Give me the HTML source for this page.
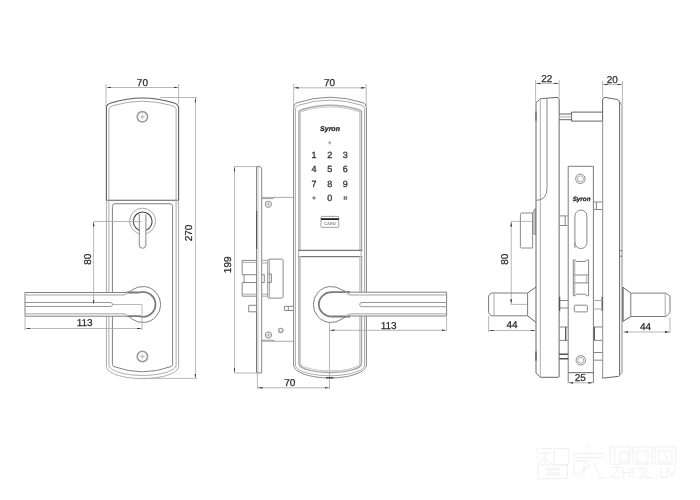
<!DOCTYPE html>
<html><head><meta charset="utf-8">
<style>
html,body{margin:0;padding:0;background:#fff;width:700px;height:500px;overflow:hidden}
svg{display:block;will-change:transform;text-rendering:geometricPrecision}
.o{fill:none;stroke:#666;stroke-width:1}
.k{fill:none;stroke:#444;stroke-width:1.1}
.l{fill:none;stroke:#aaa;stroke-width:1}
.m{fill:none;stroke:#888;stroke-width:1}
.d{fill:none;stroke:#a6a6a6;stroke-width:0.8}
.w{fill:#fff}
.t{font-family:"Liberation Sans",sans-serif;font-size:10px;fill:#2a2a2a;stroke:#2a2a2a;stroke-width:0.25;text-anchor:middle}
.a{fill:#333}
</style></head><body>
<svg width="700" height="500" viewBox="0 0 700 500">
<defs>
<marker id="ar" viewBox="0 0 4.5 1.8" refX="4.5" refY="0.9" markerWidth="4.5" markerHeight="1.8" markerUnits="userSpaceOnUse" orient="auto-start-reverse"><path d="M0,0 L4.5,0.9 L0,1.8 Z" fill="#3a3a3a"/></marker>
</defs>

<!-- ============ LEFT VIEW ============ -->
<g id="left">
<!-- dim 70 -->
<path class="d" d="M106,84 V106 M178.6,84 V104"/>
<path class="d" d="M106.5,87.5 H178.1" marker-start="url(#ar)" marker-end="url(#ar)"/>
<text class="t" x="142.4" y="85.5">70</text>
<!-- dim 270 -->
<path class="d" d="M160,97.5 H197 M140,378.4 H197"/>
<path class="d" d="M195.4,98 V378" marker-start="url(#ar)" marker-end="url(#ar)"/>
<text class="t" transform="translate(191.6,233) rotate(-90)" x="0" y="0">270</text>

<!-- upper section -->
<path fill="none" stroke="#5c5c5c" stroke-width="1.1" d="M106.4,200.3 V107.60 Q106.40,104.41 111.60,102.79 A104.10,104.10 0 0 1 173.40,102.79 Q178.60,104.41 178.60,107.60 V200.3 Z"/>
<path class="l" d="M108.9,200.3 V108.80 Q108.90,106.90 113.50,105.53 A101.50,101.50 0 0 1 171.50,105.53 Q176.10,106.90 176.10,108.80 V200.3"/>
<!-- lower plate -->
<path class="l" d="M178.6,200.3 V366.40 C178.60,373.11 162.36,378.60 142.50,378.60 C122.64,378.60 106.40,373.11 106.40,366.40 V200.3"/>
<path class="l" d="M176.1,200.3 V365.00 C176.10,370.72 160.98,375.40 142.50,375.40 C124.02,375.40 108.90,370.72 108.90,365.00 V200.3"/>
<!-- inner rect -->
<path fill="none" stroke="#808080" d="M112.4,363 V206.4 Q112.4,203.7 115,203.7 H170 Q172.6,203.7 172.6,206.4 V364.5 Q172.6,366 171,366.6 Q142.5,377 114,366.6 Q112.4,366 112.4,364.5 Z"/>

<!-- screws -->
<g transform="translate(142.4,116.8)"><circle fill="none" stroke="#9a9a9a" stroke-width="1.6" r="5.2"/><circle fill="none" stroke="#999" stroke-width="0.8" r="1"/><path fill="none" stroke="#c4c4c4" stroke-width="0.6" d="M-3.6,0 H3.6 M0,-3.6 V3.6"/></g>
<g transform="translate(142.4,356.5)"><circle fill="none" stroke="#9a9a9a" stroke-width="1.6" r="5.2"/><circle fill="none" stroke="#999" stroke-width="0.8" r="1"/><path fill="none" stroke="#c4c4c4" stroke-width="0.6" d="M-3.6,0 H3.6 M0,-3.6 V3.6"/></g>

<!-- key cylinder -->
<circle class="l" cx="142.6" cy="221.2" r="13"/>
<circle class="k" cx="142.7" cy="221.4" r="9.4" stroke-width="1.5" stroke="#555"/>
<path class="w" d="M139.3,214.3 H145.9 V245 A3.3,3.3 0 0 1 139.3,245 Z"/>
<path class="m" d="M139.3,214.3 V245 A3.3,3.3 0 0 0 145.9,245 V214.3"/>

<!-- lever -->
<path class="w" d="M25,292.5 H126 Q130,292.5 132,290 A18,18 0 1 1 132,319 Q130,316.2 126,316.2 H25 Z"/>
<path fill="none" stroke="#808080" stroke-width="1" d="M25,292.5 H126 Q130,292.5 132,290 A18,18 0 1 1 132,319 Q130,316.2 126,316.2 H25 Z"/>
<path fill="none" stroke="#7a7a7a" stroke-width="1.8" d="M126,292.5 H139 A12.5,12.5 0 1 1 139,316.2 H126"/>
<path fill="none" stroke="#c2c2c2" stroke-width="1.5" d="M25.5,295 H122 Q126,295 128,292.5 M25.5,313.7 H122 Q126,313.7 128,316.2"/>
<path fill="none" stroke="#999" d="M25,302.5 H110.5 A2,2 0 0 1 110.5,306.5 H25"/>
<!-- dim 80 -->
<path class="d" d="M93.6,221.5 H141.5"/>
<path class="d" d="M93.6,222 V304" marker-start="url(#ar)" marker-end="url(#ar)"/>
<text class="t" transform="translate(91.4,259.2) rotate(-90)">80</text>
<!-- dim 113 -->
<path class="d" d="M112.5,304.5 H142 V330 M25,316.2 V330"/>
<path class="d" d="M25.5,328.5 H141.5" marker-start="url(#ar)" marker-end="url(#ar)"/>
<text class="t" x="84.7" y="325.9">113</text>
</g>


<!-- ============ MIDDLE SIDE VIEW ============ -->
<g id="side">
<!-- dim 199 -->
<path class="d" d="M234,166.6 H256.4 M234,373 H257"/>
<path class="d" d="M234.5,167 V372.5" marker-start="url(#ar)" marker-end="url(#ar)"/>
<text class="t" transform="translate(231.3,264.8) rotate(-90)">199</text>
<!-- faceplate -->
<path d="M256.6,166.6 H259.2 V373 H256.6 Z" fill="#e2e2e2"/>
<path class="m" d="M256.5,373 V166.6 H260 Q261.7,167 261.7,169 V373 Z"/>
<path d="M256.6,211 V249" stroke="#555" stroke-width="1.2"/>
<path d="M256.6,312 V372" stroke="#777" stroke-width="1"/>
<!-- mortise body top/bottom -->
<path class="l" d="M261.7,197.4 H293.6 M261.7,341.3 H293.6"/>
<path fill="none" stroke="#999" d="M261.7,198.6 H273 L274.6,197.4 M261.7,340.2 H273 L274.6,341.3"/>
<g transform="translate(268.4,204.3)"><circle fill="none" stroke="#888" stroke-width="1" r="3.1"/><path fill="none" stroke="#999" stroke-width="0.7" d="M-2.2,0 H2.2 M0,-2.2 V2.2"/></g>
<g transform="translate(268.4,335)"><circle fill="none" stroke="#888" stroke-width="1" r="3.1"/><path fill="none" stroke="#999" stroke-width="0.7" d="M-2.2,0 H2.2 M0,-2.2 V2.2"/></g>
<circle fill="none" stroke="#999" stroke-width="1.3" cx="280.8" cy="330.4" r="2.1"/>
<!-- latch bolt -->
<path class="m" d="M256.5,260.4 H242.2 V274.7 H256.5 M244.1,274.7 V282.5 M256.5,282.5 H242.2 V296.2 H256.5"/>
<path class="l" d="M242.2,262.4 H256.5 M242.2,294.2 H256.5"/>
<path class="l" d="M261.7,260.4 H267.8 M261.7,263 H267.8 M261.7,294.2 H267.8 M261.7,296.2 H267.8"/>
<path class="m" d="M261.7,274.7 H264.3 V282.5 H261.7"/>
<rect class="m" x="267.8" y="259.1" width="15.3" height="39" rx="1.5"/>
<path class="l" d="M269.6,259.5 V297.6"/>
<path class="m" d="M267.8,274 H271.4 V282.5 H267.8"/>
<!-- plunger -->
<path class="m" d="M256.5,305.3 H248.7 V311.8 H256.5"/>
<path class="m" d="M293,306.3 H284.4 V310.5 H293 M288.3,306.3 V310.5"/>
<!-- dim 70 bottom -->
<path class="d" d="M257.4,374 V389 M329.5,305.5 V389"/>
<path class="d" d="M258,387.8 H329" marker-start="url(#ar)" marker-end="url(#ar)"/>
<text class="t" x="289.7" y="385.5">70</text>
</g>

<!-- ============ MIDDLE FRONT VIEW ============ -->
<g id="front">
<path class="d" d="M293.7,84 V106 M366.2,84 V106"/>
<path class="d" d="M294.2,87.8 H365.7" marker-start="url(#ar)" marker-end="url(#ar)"/>
<text class="t" x="329.6" y="85.5">70</text>
<path class="m" d="M293.6,300 V107.40 Q293.60,103.90 297.20,102.70 A104.10,104.10 0 0 1 362.80,102.70 Q366.40,103.90 366.40,107.40 V365.00 C366.40,372.15 350.02,378.00 330.00,378.00 C309.98,378.00 293.60,372.15 293.60,365.00 Z"/>
<path class="l" d="M295.4,300 V108.50 Q295.40,106.22 298.60,105.18 A101.50,101.50 0 0 1 361.40,105.18 Q364.60,106.22 364.60,108.50 V365.00 C364.60,370.88 349.03,375.70 330.00,375.70 C310.97,375.70 295.40,370.88 295.40,365.00 Z"/>
<path fill="none" stroke="#a8a8a8" stroke-width="2.8" d="M299.6,250.4 V111.50 Q299.60,110.98 303.40,109.86 A95.00,95.00 0 0 1 357.00,109.86 Q360.80,110.98 360.80,111.50 V250.4"/>
<path fill="none" stroke="#e0e0e0" stroke-width="1.1" d="M300.1,250.4 V111.80 Q300.10,111.34 303.70,110.29 A94.50,94.50 0 0 1 356.70,110.29 Q360.30,111.34 360.30,111.80 V250.4"/>
<path fill="none" stroke="#b0b0b0" stroke-width="1" d="M298.6,250.4 V256.6 M361,250.4 V256.6"/>
<path fill="none" stroke="#777" stroke-width="1.1" d="M298.2,250.4 H362.2 M298.2,256.6 H362.2"/>
<path fill="none" stroke="#a8a8a8" stroke-width="2.8" d="M360.8,256.6 V363.50 C360.80,368.48 345.50,371.80 330.20,371.80 C314.90,371.80 299.60,368.48 299.60,363.50 V256.6"/>
<path fill="none" stroke="#e0e0e0" stroke-width="1.1" d="M360.3,256.6 V363.30 C360.30,368.10 345.25,371.30 330.20,371.30 C315.15,371.30 300.10,368.10 300.10,363.30 V256.6"/>
<path d="M326,377.8 H333.6" stroke="#333" stroke-width="1.2"/>
<text x="330" y="130.6" style="font-family:'Liberation Sans',sans-serif;font-size:7px;font-weight:bold;font-style:italic;fill:#222;stroke:#222;stroke-width:0.25;text-anchor:middle">Syron</text>
<path d="M329.7,140.9 L331.5,142.7 L329.7,144.5 L327.9,142.7 Z" fill="#aaa"/>
<g style="font-family:'Liberation Sans',sans-serif;font-size:9px;fill:#333;stroke:#333;stroke-width:0.3;text-anchor:middle">
<text x="314.1" y="158">1</text><text x="329.8" y="158">2</text><text x="345.2" y="158">3</text>
<text x="314.1" y="172.4">4</text><text x="329.8" y="172.4">5</text><text x="345.2" y="172.4">6</text>
<text x="314.1" y="187">7</text><text x="329.8" y="187">8</text><text x="345.2" y="187">9</text>
<text x="329.8" y="201.3">0</text>
</g>
<circle cx="314" cy="197.9" r="1.6" fill="#888"/>
<path fill="none" stroke="#555" stroke-width="0.75" d="M344.4,196.2 V199.8 M346.4,196.2 V199.8 M343.6,197.1 H347.2 M343.6,198.9 H347.2"/>
<rect fill="none" stroke="#999" stroke-width="0.9" x="321" y="216.4" width="17.8" height="11" rx="0.8"/>
<path d="M321,219.1 H338.8" stroke="#111" stroke-width="1.7"/>
<text x="330" y="225.1" style="font-family:'Liberation Sans',sans-serif;font-size:4px;font-weight:bold;fill:#888;text-anchor:middle">CARD</text>
<!-- lever -->
<path class="w" d="M446.6,292.2 H350 Q346,292.2 342,290 A18,18 0 1 0 342,319 Q346,316 350,316 H446.6 Z"/>
<path fill="none" stroke="#808080" stroke-width="1" d="M446.6,292.2 H350 Q346,292.2 342,290 A18,18 0 1 0 342,319 Q346,316 350,316 H446.6 Z"/>
<path fill="none" stroke="#7a7a7a" stroke-width="1.8" d="M350,292.2 H333 A13,12.2 0 1 0 333,316.5 H350"/>
<path fill="none" stroke="#c2c2c2" stroke-width="1.5" d="M446.1,295 H352 Q348,295 346,292.2 M446.1,313.7 H352 Q348,313.7 346,316"/>
<path fill="none" stroke="#999" d="M446.6,302.5 H361.8 A2.1,2.1 0 0 0 361.8,306.7 H446.6"/>
<path class="d" d="M446.6,317 V331"/>
<path class="d" d="M330,330.3 H446.1" marker-start="url(#ar)" marker-end="url(#ar)"/>
<text class="t" x="388.7" y="328.5">113</text>
</g>


<!-- ============ RIGHT VIEW ============ -->
<g id="right">
<!-- dim 22 -->
<path class="d" d="M535.6,80 V102 M559.2,80 V97"/>
<path class="d" d="M536.1,83.4 H558.7" marker-start="url(#ar)" marker-end="url(#ar)"/>
<text class="t" x="546.8" y="81.5">22</text>
<!-- dim 20 -->
<path class="d" d="M602.6,81 V97 M622.4,81 V104"/>
<path class="d" d="M603.1,84.4 H621.9" marker-start="url(#ar)" marker-end="url(#ar)"/>
<text class="t" x="612.2" y="82.5">20</text>
<!-- left body -->
<path class="o" d="M536,372.9 V102.6 L538.5,100.5 Q539.5,98.8 541.5,98.6 L557,97.4 Q559.2,97.4 559.2,99.5 V376.3 Q559.2,377.3 558.2,377.3 L540.4,377.3 L536,372.9"/>
<path d="M536,351.4 V360.8" stroke="#666" stroke-width="1.5"/>
<path class="l" d="M540.3,99 V377.3"/>
<path class="m" d="M547,98.6 V188 Q547,200.4 536,200.4"/>
<path d="M536,111.4 V120.7" stroke="#777" stroke-width="1.5"/>
<!-- spindle -->
<path class="o" d="M559.2,114 H571.6 V112.1 H602.6 M559.2,119.7 H571.6 V121.1 H602.6 M571.6,112.1 V121.1"/>
<path class="l" d="M559.2,116.9 H571.6"/>
<!-- right body -->
<path class="o" d="M602.6,378.1 V100 Q602.6,97.4 605,97.4 L617,99.4 Q619.6,100 619.6,103 V375.5 Q619.6,376.2 618.8,376.3 L603.5,378.1 Z"/>
<path class="m" d="M619.6,101.5 L622,105.5 V372.3 L619.6,375"/>
<path fill="none" stroke="#777" d="M619.6,250.6 H622.2 M619.6,256.2 H622.2"/>
<!-- through lines -->
<path class="l" d="M559.2,121 V377 M602.6,121 V377"/>
<!-- faceplate -->
<path fill="none" stroke="#7c7c7c" d="M568.2,383 V166.3 H593.4 V383"/>
<path class="o" d="M568.2,372.7 H593.4"/>
<g transform="translate(580.4,178.8)"><circle class="m" r="4.7"/><circle class="l" r="3"/></g>
<g transform="translate(580.8,360.3)"><circle class="m" r="4.7"/><circle class="l" r="3"/></g>
<text x="581.6" y="201.2" style="font-family:'Liberation Sans',sans-serif;font-size:6.3px;font-weight:bold;font-style:italic;fill:#222;stroke:#222;stroke-width:0.25;text-anchor:middle">Syron</text>
<path class="m" d="M574.9,248 V216.1 A5.6,5.6 0 0 1 586.9,216.1 V242.5 A6,6 0 0 1 574.9,242.5"/>
<!-- latch -->
<path class="m" d="M573.3,295.7 V260 H575.5 L576.5,261.5 H585.5 L586.5,260 H588.6 V295.7 H586.5 L585.5,294.2 H576.5 L575.5,295.7 Z"/>
<path class="m" d="M573.3,275 H588.6 M573.3,282.9 H588.6"/>
<path class="l" d="M574.8,261 V295 M586.8,275 V283"/>
<rect class="m" x="574.3" y="305.2" width="13.1" height="6.7" rx="1"/>
<!-- pins -->
<path class="m" d="M593.4,202 H602.6 M593.4,209.5 H602.6 M596.4,202 V209.5"/>
<path class="m" d="M559.2,215.9 H567.6 M559.2,225.5 H567.6 M565.2,215.9 V225.5"/>
<path class="m" d="M559.2,300.5 H568.2 M559.2,308 H568.2"/>
<path d="M559.6,296.7 V311" stroke="#555" stroke-width="1.3"/>
<path d="M602.2,296.7 V311" stroke="#555" stroke-width="1.3"/>
<path class="l" d="M593.4,300.5 H602.6 M593.4,309 H602.6"/>
<path class="m" d="M559.2,327 H567.9 M559.2,340.4 H567.9"/>
<path d="M565.7,327 V340.4" stroke="#555" stroke-width="1.3"/>
<path class="m" d="M593.4,327 H602.6 M593.4,340.4 H602.6"/>
<path d="M594.3,327 V340.1" stroke="#555" stroke-width="1.3"/>
<path fill="none" stroke="#555" stroke-width="1.4" d="M559.2,354.2 H568.2 M559.2,358.8 H568.2"/>
<path class="m" d="M593.4,352.5 H602.6 M593.4,360.2 H602.6"/>
<!-- thumb turn -->
<path fill="none" stroke="#8a8a8a" d="M532.6,213 H521.6 Q520.4,213 520.4,214.2 V246.8 Q520.4,248 521.6,248 H532.6 V213"/>
<path d="M532.6,213 L535.4,208.4 V234.8 L532.6,232.8 Z" fill="#ccc" stroke="#777" stroke-width="0.8"/>
<!-- dim 80 right -->
<path class="d" d="M510.5,221.4 H532 M510.5,304.4 H527.6"/>
<path class="d" d="M511.2,222 V303.8" marker-start="url(#ar)" marker-end="url(#ar)"/>
<text class="t" transform="translate(508.3,259.2) rotate(-90)">80</text>
<!-- left knob -->
<path fill="none" stroke="#7c7c7c" d="M527.6,293 H491 L488.6,296 V312.8 L491,315.8 H527.6 Z"/>
<path class="l" d="M494,293 V315.8"/>
<path class="o" d="M527.6,293 L536,287 M527.6,315.8 L536,322.4"/>
<!-- right knob -->
<path fill="none" stroke="#7c7c7c" d="M630.8,293.1 H665.9 L670,296.2 V312.6 L665.9,316.5 H630.8 Z"/>
<path class="l" d="M665.2,293.1 V316.5"/>
<path class="o" d="M630.8,293.1 L622.9,287.2 M630.8,316.5 L622.9,321.4"/><path d="M622.9,287.2 V321.4" stroke="#666" stroke-width="1.4"/>
<!-- dims 44 -->
<path class="d" d="M488.6,316 V332 M670,317.5 V333"/>
<path class="d" d="M489.1,330.5 H535.5" marker-start="url(#ar)" marker-end="url(#ar)"/>
<text class="t" x="512" y="328.4">44</text>
<path class="d" d="M623.5,332 H669.5" marker-start="url(#ar)" marker-end="url(#ar)"/>
<text class="t" x="645.5" y="329.5">44</text>
<!-- dim 25 -->
<path class="d" d="M568.7,382.8 H592.9" marker-start="url(#ar)" marker-end="url(#ar)"/>
<text class="t" x="580.3" y="380.5">25</text>
</g>


<!-- watermark (very faint) -->
<g fill="none" stroke="#efefef" stroke-width="1">
<path d="M554.2,448.4 H568.3 V464.6 H554.2 Z M538,465 H567.5 V478.7 H538 Z M546.7,468.3 H559.7 V470.3 H546.7 Z M546.7,472.9 H559.7 V474.9 H546.7 Z"/>
<path d="M537.5,448 V452 M537,453.2 H550 M541,448.5 H552 M538,464 L545,457 M545,452 V464 M546,459 L552,464"/>
<path d="M587,444.5 V449 M573.5,453.5 H604 M573.5,453.5 V457 M604,453.5 V457 M576,457.5 H602 M574,461 H590 M574,462 V476 L590,464 M576,478 L590,466 M584,462 V476 M594,462 L600,478 H606"/>
<path d="M610,447 H630 V464 H610 Z M615,449 V462 M620,452 H628 V462 H620 Z M633,447 H652 V464 H633 Z M637,451 H648 V462 H637 Z M655,447 H676 V464 H655 Z M659,451 H672 V462 H659 Z M664,452 L668,460"/>
<path d="M611,467.5 H620 L611,477.5 H620 M623,467.5 V477.5 M623,472.5 H630 M630,467.5 V477.5 M633,467.5 V477.5 M637,467.5 H643 V477.5 H637 M646,467.5 V477.5 H652 M656,476 H658 M661,467.5 V477.5 H667 V467.5 M668,467.5 L672,477.5 L676,467.5"/>
</g>
</svg>
</body></html>
